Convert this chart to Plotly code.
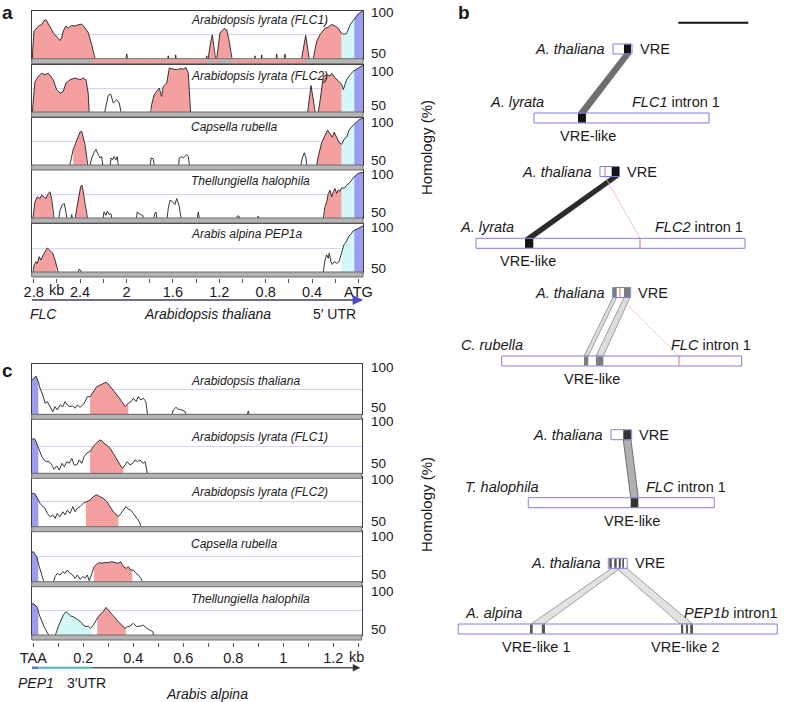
import numpy as np
import plotly.graph_objects as go

W, H = 786, 702
FONT = "Liberation Sans, Arial, Helvetica, sans-serif"

# ---------------- Panel a: FLC 5' region (kb upstream of ATG, A. thaliana reference) ----------------
A_SPECIES = ["Arabidopsis lyrata (FLC1)", "Arabidopsis lyrata (FLC2)", "Capsella rubella",
             "Thellungiella halophila", "Arabis alpina PEP1a"]

A1_KB = [2.812, 2.809, 2.797, 2.774, 2.752, 2.731, 2.711, 2.694, 2.674, 2.653, 2.631, 2.602, 2.573, 2.559, 2.545,
         2.522, 2.502, 2.472, 2.444, 2.416, 2.386, 2.358, 2.329, 2.300, 2.272, 2.262,
         2.010, 1.998, 1.986, 1.650, 1.640, 1.630, 1.585, 1.576, 1.565,
         1.315, 1.309, 1.300, 1.295, 1.278, 1.260, 1.248, 1.237, 1.228,
         1.222, 1.194, 1.159, 1.136, 1.114, 1.093, 1.085,
         0.900, 0.892, 0.884, 0.842, 0.834, 0.826, 0.713, 0.705, 0.697, 0.642, 0.634, 0.626,
         0.497, 0.490, 0.455, 0.427, 0.420,
         0.397, 0.390, 0.360, 0.332, 0.289, 0.260, 0.231, 0.203, 0.174, 0.145, 0.125, 0.102, 0.073, 0.045, 0.002, -0.039]
A1_PCT = [46, 57.7, 79, 82, 84.7, 85.4, 89.6, 90.6, 87, 82, 77, 72.4, 69, 71.7, 79,
          84, 82, 84.7, 84, 85.4, 86, 82, 77, 64.6, 48, 46,
          46, 55, 46, 46, 53, 46, 46, 54, 46,
          46, 53, 48, 50, 65, 75, 62, 48, 46,
          50, 76.8, 81.3, 80.2, 68, 48, 46,
          46, 53, 46, 46, 54, 46, 46, 55, 46, 46, 55, 46,
          46, 50, 74.4, 50, 46,
          46, 50, 68, 75, 81.6, 83, 85.7, 84.3, 81.6, 76.4, 75.5, 76.4, 85, 90, 96.7, 100]

A2_KB = [2.812, 2.809, 2.789, 2.760, 2.731, 2.703, 2.674, 2.653, 2.631, 2.602, 2.573, 2.545, 2.522, 2.487, 2.444,
         2.401, 2.372, 2.349, 2.330, 2.321, 2.310,
         2.194, 2.157, 2.136, 2.114, 2.084, 2.062, 2.041,
         1.795, 1.783, 1.763, 1.740, 1.717, 1.697, 1.683, 1.653, 1.631, 1.597, 1.567, 1.539, 1.510, 1.487, 1.467,
         1.447, 1.440,
         0.445, 0.438, 0.409, 0.375, 0.368,
         0.350, 0.347, 0.332, 0.317, 0.303, 0.274, 0.246, 0.231, 0.203, 0.174, 0.145, 0.131, 0.102, 0.073, 0.045,
         0.002, -0.039]
A2_PCT = [46, 54, 82, 87.7, 91, 89.4, 91, 87.7, 84, 73.6, 70, 71.8, 80.6, 84, 86,
          84, 86, 84, 70, 48, 46,
          46, 67.6, 69, 59.5, 63, 59.5, 46,
          46, 57.7, 67.6, 71.8, 75.3, 66.5, 77, 80.6, 96.5, 95.4, 94.7, 95.8, 95.4, 97, 91,
          48, 46,
          46, 50, 78, 50, 46,
          46, 50, 61, 75.3, 87.7, 89.4, 88, 91, 86, 83, 79, 73.6, 84, 89.4, 93,
          96.5, 99.3]

A3_KB = [2.495, 2.487, 2.472, 2.459, 2.435, 2.416, 2.401, 2.386, 2.372, 2.358, 2.343, 2.338, 2.330,
         2.321, 2.300, 2.280, 2.263, 2.243, 2.228, 2.214, 2.200,
         2.142, 2.134, 2.119, 2.108, 2.091, 2.079, 2.067,
         1.797, 1.789, 1.769, 1.757,
         1.553, 1.545, 1.524, 1.510, 1.496, 1.481, 1.467, 1.453,
         0.504, 0.484, 0.467, 0.453, 0.441,
         0.368, 0.360, 0.347, 0.317, 0.289, 0.266, 0.246, 0.226, 0.209, 0.188, 0.168, 0.145, 0.122, 0.102, 0.082,
         0.059, 0.030, -0.004, -0.039]
A3_PCT = [46, 50, 59, 66.7, 74, 79.6, 85, 86, 79.6, 72, 59, 48, 46,
          46, 57.4, 63, 66.7, 61, 57.4, 59, 46,
          46, 57.4, 55.5, 59, 55.5, 59, 46,
          46, 57.4, 56.7, 46,
          46, 57.4, 59, 57.4, 59, 61, 59, 46,
          46, 57.4, 63, 57.4, 46,
          46, 50, 59, 74, 81.5, 87, 83.3, 79.6, 85, 79.6, 74, 72, 77.8, 79.6, 87,
          90.7, 94.4, 98, 100]

A4_KB = [2.810, 2.803, 2.789, 2.769, 2.746, 2.731, 2.711, 2.694, 2.674, 2.659, 2.645, 2.631, 2.620,
         2.588, 2.573, 2.553, 2.536, 2.522, 2.510,
         2.481, 2.472, 2.459,
         2.444, 2.429, 2.412, 2.395, 2.384, 2.372, 2.355, 2.338, 2.330,
         2.205, 2.194, 2.177, 2.166, 2.148, 2.134, 2.119,
         1.918, 1.907, 1.895, 1.878, 1.860, 1.849,
         1.769, 1.757, 1.746, 1.734,
         1.653, 1.640, 1.625, 1.602, 1.582, 1.567, 1.547, 1.524,
         1.395, 1.381, 1.366,
         1.059, 1.045, 1.030, 1.019,
         0.875, 0.865, 0.855,
         0.310, 0.303, 0.289, 0.274, 0.260, 0.246, 0.231, 0.217, 0.203, 0.188, 0.174, 0.159, 0.145, 0.122, 0.102,
         0.082, 0.059, 0.036, 0.002, -0.039]
A4_PCT = [46, 52.8, 66.8, 72, 70.3, 73.8, 72, 70.3, 75.6, 77.3, 70.3, 48, 46,
          46, 58, 64, 65, 56.3, 46,
          46, 53.5, 46,
          48, 59.8, 73.8, 82.6, 84.3, 77.3, 63.3, 48, 46,
          46, 56.3, 52.8, 57, 53.5, 54.5, 46,
          46, 56.3, 54.5, 53.5, 52.8, 46,
          46, 54.5, 56.3, 46,
          46, 59.8, 68.5, 66.8, 64, 70.3, 63.3, 46,
          46, 56.3, 46,
          46, 52, 52, 46,
          46, 52, 46,
          46, 50, 61.5, 66.8, 75.6, 79, 72, 77.3, 80.8, 75.6, 79, 78, 81.5, 81, 84.3,
          86, 89.6, 93, 96.6, 97.6]

A5_KB = [2.810, 2.803, 2.797, 2.780, 2.769, 2.752, 2.737, 2.717, 2.703, 2.683, 2.666, 2.653, 2.636, 2.616, 2.602,
         2.588, 2.580,
         2.424, 2.409, 2.395, 2.386,
         0.310, 0.303, 0.289, 0.274, 0.260, 0.252, 0.237, 0.226, 0.209, 0.188, 0.168, 0.153, 0.140, 0.125, 0.110,
         0.093, 0.082, 0.065, 0.045, 0.016, -0.013, -0.039]
A5_PCT = [46, 50, 57, 60.7, 59, 66, 62.5, 67.9, 71.4, 75, 73.2, 71.4, 69.6, 62.5, 57,
          48, 46,
          46, 52.9, 51.8, 46,
          46, 50, 62.5, 67.9, 64.3, 69.6, 60.7, 57.9, 60.7, 59, 60.7, 67.9, 73.2, 78.6, 80.4,
          84, 87.5, 89.3, 92.9, 94.6, 96.4, 98]

A_CNS = [[(2.272, 2.809), (1.237, 1.295), (1.093, 1.222), (0.427, 0.490), (0.145, 0.390)],
         [(2.321, 2.809), (1.447, 1.783), (0.375, 0.438), (0.145, 0.347)],
         [(2.343, 2.459), (0.145, 0.360)],
         [(2.631, 2.803), (2.338, 2.444), (0.145, 0.303)],
         [(2.602, 2.797)]]
A_UTR = (0.036, 0.145)
A_EXON = (-0.039, 0.036)
A1_BAR_CNS = [(1.304, 2.297), (1.205, 1.256), (0.457, 1.100)]
A_TICKS = [2.8, 2.6, 2.4, 2.2, 2.0, 1.8, 1.6, 1.4, 1.2, 1.0, 0.8, 0.6, 0.4, 0.2, 0.0]
A_TICKTEXT = ["2.8", "", "2.4", "", "2", "", "1.6", "", "1.2", "", "0.8", "", "0.4", "", "ATG"]

# ---------------- Panel c: PEP1 3' region (kb downstream of TAA, A. alpina reference) ----------------
C_SPECIES = ["Arabidopsis thaliana", "Arabidopsis lyrata (FLC1)", "Arabidopsis lyrata (FLC2)",
             "Capsella rubella", "Thellungiella halophila"]

C1_KB = [-0.006, 0.000, 0.011, 0.020, 0.027, 0.038, 0.047, 0.056, 0.067, 0.078, 0.087, 0.096, 0.107, 0.118, 0.127,
         0.136, 0.147, 0.158, 0.167, 0.176, 0.187, 0.198, 0.207, 0.216, 0.227, 0.240, 0.254, 0.267, 0.280, 0.291,
         0.300, 0.314, 0.327, 0.340, 0.354, 0.367, 0.380, 0.391, 0.400, 0.411, 0.420, 0.430, 0.440, 0.450, 0.458,
         0.465,
         0.550, 0.560, 0.571, 0.580, 0.594, 0.607, 0.614,
         0.852, 0.860, 0.867]
C1_PCT = [84, 85, 88, 82.4, 75.8, 69.2, 61, 62.6, 57.6, 52.6, 57.6, 54.3, 59.3, 57.6, 62.6,
          59.3, 57.6, 58.3, 56, 59.3, 57, 59.3, 62.6, 67.5, 67.5, 72.5, 77.5, 79, 80.8, 81.8,
          80, 75.8, 72.5, 67.5, 62.6, 57.6, 61, 62.6, 66, 62.6, 67.5, 64.2, 66, 62.6, 48,
          46,
          46, 54.3, 57, 55, 54.3, 52.6, 46,
          46, 53.3, 46]

C2_KB = [-0.006, 0.000, 0.007, 0.016, 0.024, 0.034, 0.043, 0.054, 0.064, 0.074, 0.083, 0.094, 0.104, 0.115, 0.124,
         0.134, 0.144, 0.154, 0.163, 0.174, 0.184, 0.194, 0.203, 0.216, 0.227, 0.240, 0.254, 0.267, 0.274, 0.283,
         0.294, 0.307, 0.320, 0.334, 0.347, 0.358, 0.367, 0.376, 0.387, 0.398, 0.407, 0.416, 0.427, 0.438, 0.447,
         0.454, 0.460]
C2_PCT = [81, 82, 81.3, 76, 71.5, 65.4, 62.3, 60.7, 60.7, 57.7, 53.7, 56.8, 53, 59.2, 56,
          60.7, 59.2, 63.8, 57.7, 57.7, 62.3, 59.2, 65.4, 69, 70, 74.6, 78.2, 80.7, 80.1, 77.6,
          76, 73, 68.4, 62.3, 57.7, 54.6, 57.7, 60.7, 57.7, 59.2, 62.3, 60.7, 62.3, 59.2, 60.7,
          48, 46]

C3_KB = [-0.006, 0.000, 0.007, 0.016, 0.027, 0.038, 0.047, 0.056, 0.067, 0.078, 0.087, 0.096, 0.107, 0.118, 0.127,
         0.136, 0.147, 0.158, 0.167, 0.176, 0.187, 0.200, 0.214, 0.227, 0.240, 0.254, 0.267, 0.280, 0.294, 0.307,
         0.320, 0.334, 0.340, 0.350, 0.360, 0.371, 0.380, 0.389, 0.400, 0.414, 0.424, 0.434, 0.440]
C3_PCT = [83, 83.6, 83, 78.6, 73.5, 70.2, 68.5, 63.4, 60, 61.8, 58.4, 63.4, 60, 65, 61.8,
          66.8, 63.4, 70.2, 65, 68.5, 70.2, 73.5, 75.2, 76.9, 80.2, 82, 80.2, 78.6, 75.2, 70.2,
          65, 61.8, 60, 63.4, 66.8, 70.2, 67.5, 66.8, 63.4, 58.4, 55, 48, 46]

C4_KB = [-0.006, 0.000, 0.004, 0.014, 0.020, 0.027, 0.034, 0.040, 0.047, 0.052,
         0.076, 0.080, 0.087, 0.096, 0.107, 0.118, 0.127, 0.136, 0.147, 0.158, 0.167, 0.176, 0.187, 0.198, 0.207,
         0.216, 0.224, 0.234, 0.243, 0.254, 0.264, 0.274, 0.287, 0.300, 0.314, 0.327, 0.340, 0.350, 0.360, 0.371,
         0.380, 0.389, 0.400, 0.411, 0.420, 0.430, 0.440, 0.446]
C4_PCT = [79, 79.6, 78, 74.7, 68, 61.5, 56.6, 51.6, 48, 46,
          46, 50, 55, 58.2, 56.6, 59.9, 58.2, 61.5, 58.2, 56.6, 53.3, 56.6, 52.3, 55, 53.3,
          56.6, 51, 58.2, 64.8, 67.4, 68.8, 68.2, 69, 68.8, 69.7, 68.8, 68.2, 69.7, 64.8, 63.2,
          64.8, 61.5, 61.5, 58.2, 56.6, 53.3, 48, 46]

C5_KB = [-0.006, 0.000, 0.007, 0.016, 0.024, 0.034, 0.043, 0.054, 0.064, 0.070,
         0.080, 0.091, 0.100, 0.110, 0.120, 0.131, 0.140, 0.149, 0.160, 0.171, 0.180, 0.189, 0.200, 0.211, 0.220,
         0.229, 0.240, 0.251, 0.260, 0.269, 0.280, 0.291, 0.300, 0.314, 0.327, 0.340, 0.354, 0.367, 0.376, 0.387,
         0.400, 0.414, 0.427, 0.440, 0.454, 0.467, 0.478, 0.483, 0.490]
C5_PCT = [81, 82, 80.4, 78, 70.3, 63.5, 58.5, 53.4, 48, 46,
          46, 51.7, 58.5, 65.2, 70.3, 73.7, 71.3, 69.3, 68.6, 67, 65.2, 63.5, 60, 58.5, 59,
          56.8, 60, 65.2, 68.6, 71.3, 73.7, 78, 75.4, 70.3, 67, 63.5, 60, 56.8, 58.5, 59,
          61.8, 58.5, 59, 60, 56.8, 55, 53.4, 48, 46]

C_CNS = [[(0.227, 0.380)], [(0.227, 0.360)], [(0.211, 0.340)], [(0.243, 0.396)], [(0.256, 0.370)]]
C_UTR = [[], [], [], [], [(0.094, 0.233)]]
C_EXON = (-0.0064, 0.020)
C_UTR_SPAN = (0.020, 0.233)
C_TICKS = [0.0, 0.1, 0.2, 0.3, 0.4, 0.5, 0.6, 0.7, 0.8, 0.9, 1.0, 1.1, 1.2, 1.3]
C_TICKTEXT = ["TAA", "", "0.2", "", "0.4", "", "0.6", "", "0.8", "", "1", "", "1.2", ""]

# ---------------- Panel b: VRE alignments (bp, schematic) ----------------
B_SPECIES = ["A. lyrata", "A. lyrata", "C. rubella", "T. halophila", "A. alpina"]
B_GENE = ["FLC1", "FLC2", "FLC", "FLC", "PEP1b"]
B_INTRON_TXT = [" intron 1", " intron 1", " intron 1", " intron 1", " intron1"]
B_VRE_BOX = [(2757, 3029), (2571, 2847), (2753, 3010), (2729, 3024), (2690, 2961)]
B_INTRON = [(1629, 4129), (800, 4643), (1167, 4596), (1547, 4204), (547, 5104)]
B_VRE_HITS = [[(2914, 3014)], [(2739, 2847)], [(2757, 2810), (2914, 3000)], [(2904, 3014)],
              [(2704, 2740), (2775, 2810), (2840, 2870), (2890, 2914)]]
B_INTRON_HITS = [[(2257, 2371)], [(1500, 1619)], [(2343, 2404), (2514, 2619)], [(3010, 3119)],
                 [(1571, 1610), (1740, 1786), (3729, 3760), (3800, 3830), (3860, 3900)]]
B_LINKS = [[((2914, 3014), (2257, 2371))],
           [((2739, 2847), (1500, 1619))],
           [((2757, 2810), (2343, 2404)), ((2914, 3000), (2514, 2619))],
           [((2904, 3014), (3010, 3119))],
           [((2739, 2857), (1586, 1771)), ((2810, 2953), (3714, 3896))]]
B_RED = [None, (2643, 3143), (2857, 3700), None, None]
B_VRE_LIKE = [[(2400, "VRE-like")], [(1536, "VRE-like")], [(2453, "VRE-like")], [(3024, "VRE-like")],
              [(1667, "VRE-like 1"), (3797, "VRE-like 2")]]
B_SPECIES_X = [971, 543, 557, 614, 614]
B_GENE_X = [4314, 4643, 4757, 4400, 5143]
B_SCALE_BAR = (3690, 4690)   # 1 kb

# ---------------- colours ----------------
PINK = "#f5a0a0"
CYAN = "#d3f7f7"
BLUE = "#9c9cf0"
TEAL = "#4fb3b3"

fig = go.Figure()
layout = dict(width=W, height=H, autosize=False, margin=dict(l=0, r=0, t=0, b=0, pad=0, autoexpand=False),
              paper_bgcolor="white", plot_bgcolor="white", showlegend=False,
              font=dict(family=FONT, size=14, color="#1a1a1a"))
shapes, annos = [], []


def yp(v):
    return 1 - v / H


def names(i):
    s = "" if i == 1 else str(i)
    return "x" + s, "y" + s, "xaxis" + s, "yaxis" + s


def region_poly(xs, ys, lo, hi):
    xs = np.asarray(xs, float)
    ys = np.asarray(ys, float)
    o = np.argsort(xs)
    xs, ys = xs[o], ys[o]
    inner = (xs > lo) & (xs < hi)
    fx = np.concatenate([[lo], xs[inner], [hi]])
    return fx, np.interp(fx, xs, ys)


def text(x, y, t, xref="paper", yref="paper", xanchor="center", size=14, yanchor="middle", **kw):
    d = dict(x=x, y=y, xref=xref, yref=yref, text=t, showarrow=False, xanchor=xanchor, yanchor=yanchor,
             font=dict(family=FONT, size=size, color="#1a1a1a"))
    d.update(kw)
    annos.append(d)


def add_track(i, xdom, ydom, xrange, kb, pct, regions, label, lab_y, y100, y50):
    xr, yr, xk, yk = names(i)
    top, bot = ydom
    layout[xk] = dict(domain=[xdom[0] / W, xdom[1] / W], range=xrange, anchor=yr, showgrid=False,
                      zeroline=False, showticklabels=False, ticks="", showline=True, mirror=True,
                      linecolor="#3c3c3c", linewidth=1, fixedrange=True, automargin=False)
    layout[yk] = dict(domain=[yp(bot), yp(top)], range=[50, 100], anchor=xr, tickvals=[75],
                      showticklabels=False, ticks="", showgrid=True, gridcolor="#d4d4f4", gridwidth=1,
                      zeroline=False, showline=True, mirror=True, linecolor="#3c3c3c", linewidth=1,
                      fixedrange=True, automargin=False)
    for lo, hi, col in regions:
        fx, fy = region_poly(kb, pct, lo, hi)
        fig.add_trace(go.Scatter(x=fx, y=fy, xaxis=xr, yaxis=yr, mode="lines", line=dict(width=0, color=col),
                                 fill="tozeroy", fillcolor=col, hoverinfo="skip"))
    fig.add_trace(go.Scatter(x=kb, y=pct, xaxis=xr, yaxis=yr, mode="lines",
                             line=dict(color="#202020", width=0.9), hoverinfo="skip"))
    shapes.append(dict(type="rect", xref="paper", yref="paper", x0=xdom[0] / W, x1=xdom[1] / W,
                       y0=yp(bot + 5), y1=yp(bot), fillcolor="#b4b4b4", line=dict(color="#6c6c6c", width=1)))
    text(189 / W, yp(lab_y), "<i>%s</i>" % label, xanchor="left", size=12)
    text(369 / W, yp(y100), "100", xanchor="left", size=13.5)
    text(369 / W, yp(y50), "50", xanchor="left", size=13.5)
    return xr


def add_tick_axis(i, xdom, ypix, xrange, tickvals, ticktext, standoff):
    xr, yr, xk, yk = names(i)
    layout[xk] = dict(domain=[xdom[0] / W, xdom[1] / W], range=xrange, anchor=yr, tickvals=tickvals,
                      ticktext=ticktext, ticks="outside", ticklen=4, tickwidth=1, tickcolor="#555",
                      showline=False, showgrid=False, zeroline=False, fixedrange=True, automargin=False,
                      ticklabelstandoff=standoff, tickfont=dict(family=FONT, size=14.5, color="#1a1a1a"))
    layout[yk] = dict(domain=[yp(ypix + 1), yp(ypix)], range=[0, 1], visible=False, anchor=xr,
                      fixedrange=True, automargin=False)
    fig.add_trace(go.Scatter(x=[tickvals[0]], y=[0.5], xaxis=xr, yaxis=yr, mode="markers",
                             marker=dict(opacity=0), hoverinfo="skip"))
    return xr


# ---------------- panel a ----------------
A_XDOM = (31.7, 363)
A_XRANGE = [2.817, -0.039]
A_TRACKS = [(10.7, 58.7), (64.7, 112), (118, 165), (170, 218), (224, 272)]
A_LAB_Y = [20, 76, 127, 181, 234]
A_100 = [12.5, 71.3, 122, 174, 227.7]
A_50 = [53.3, 105.8, 160, 212.5, 268.5]
A_DATA = [(A1_KB, A1_PCT), (A2_KB, A2_PCT), (A3_KB, A3_PCT), (A4_KB, A4_PCT), (A5_KB, A5_PCT)]
for k in range(5):
    regs = [(lo, hi, PINK) for lo, hi in A_CNS[k]] + [(A_UTR[0], A_UTR[1], CYAN), (A_EXON[0], A_EXON[1], BLUE)]
    xr = add_track(k + 1, A_XDOM, A_TRACKS[k], A_XRANGE, A_DATA[k][0], A_DATA[k][1], regs,
                   A_SPECIES[k], A_LAB_Y[k], A_100[k], A_50[k])
    if k == 0:
        for lo, hi in A1_BAR_CNS:
            shapes.append(dict(type="rect", xref=xr, yref="paper", x0=lo, x1=hi, y0=yp(A_TRACKS[0][1] + 4.2),
                               y1=yp(A_TRACKS[0][1] + 0.8), fillcolor="#f09c9c", line=dict(width=0)))

xa = add_tick_axis(11, A_XDOM, 277, A_XRANGE, A_TICKS, A_TICKTEXT, -3)
text(47 / W, yp(290), "kb", xanchor="left", size=14.5)
LA = 300
shapes.append(dict(type="line", xref=xa, yref="paper", x0=2.817, x1=0.045, y0=yp(LA), y1=yp(LA),
                   line=dict(color="#6f7080", width=1.8)))
shapes.append(dict(type="line", xref=xa, yref="paper", x0=0.045, x1=-0.030, y0=yp(LA), y1=yp(LA),
                   line=dict(color="#6b6be0", width=2.5)))
annos.append(dict(x=-0.036, y=yp(LA), xref=xa, yref="paper", ax=-7, ay=0, showarrow=True, arrowhead=2,
                  arrowsize=1, arrowwidth=2, arrowcolor="#4a4ac8", text=""))
text(28 / W, yp(314), "<i>FLC</i>", xanchor="left")
text(207 / W, yp(314), "<i>Arabidopsis thaliana</i>")
text(334 / W, yp(314), "5′ UTR")
text(426 / W, yp(148), "Homology (%)", textangle=-90, size=15)
text(0, 1, "<b>a</b>", xanchor="left", yanchor="top", size=19)

# ---------------- panel c ----------------
C_XDOM = (31.7, 361.7)
C_XRANGE = [-0.0064, 1.3136]
C_TRACKS = [(364, 414.3), (419, 473.3), (477, 526.7), (531, 581.7), (585.7, 635)]
C_LAB_Y = [381, 437, 492, 544, 599]
C_100 = [367.5, 421, 479, 536, 591]
C_50 = [407.5, 463, 521, 574, 629]
C_DATA = [(C1_KB, C1_PCT), (C2_KB, C2_PCT), (C3_KB, C3_PCT), (C4_KB, C4_PCT), (C5_KB, C5_PCT)]
for k in range(5):
    regs = ([(C_EXON[0], C_EXON[1], BLUE)] + [(lo, hi, CYAN) for lo, hi in C_UTR[k]] +
            [(lo, hi, PINK) for lo, hi in C_CNS[k]])
    add_track(k + 6, C_XDOM, C_TRACKS[k], C_XRANGE, C_DATA[k][0], C_DATA[k][1], regs,
              C_SPECIES[k], C_LAB_Y[k], C_100[k], C_50[k])

xc = add_tick_axis(12, C_XDOM, 641, C_XRANGE, C_TICKS, C_TICKTEXT, -1)
text(347 / W, yp(657), "kb", xanchor="left", size=14.5)
LC = 667.7
shapes.append(dict(type="line", xref=xc, yref="paper", x0=C_EXON[0], x1=C_EXON[1], y0=yp(LC), y1=yp(LC),
                   line=dict(color="#6b6be0", width=2.5)))
shapes.append(dict(type="line", xref=xc, yref="paper", x0=C_UTR_SPAN[0], x1=C_UTR_SPAN[1], y0=yp(LC), y1=yp(LC),
                   line=dict(color=TEAL, width=2)))
shapes.append(dict(type="line", xref=xc, yref="paper", x0=C_UTR_SPAN[1], x1=1.300, y0=yp(LC), y1=yp(LC),
                   line=dict(color="#55565f", width=1.5)))
annos.append(dict(x=1.308, y=yp(LC), xref=xc, yref="paper", ax=-7, ay=0, showarrow=True, arrowhead=2,
                  arrowsize=1, arrowwidth=1.5, arrowcolor="#333", text=""))
text(36 / W, yp(683), "<i>PEP1</i>")
text(86 / W, yp(683), "3′UTR")
text(207 / W, yp(693.5), "<i>Arabis alpina</i>")
text(426 / W, yp(505), "Homology (%)", textangle=-90, size=15)
text(0, yp(358), "<b>c</b>", xanchor="left", yanchor="top", size=19)

# ---------------- panel b ----------------
layout["xaxis13"] = dict(domain=[420 / W, 1], range=[0, 5229], visible=False, anchor="y13", fixedrange=True)
layout["yaxis13"] = dict(domain=[0, 1], range=[H, 0], visible=False, anchor="x13", fixedrange=True)
fig.add_trace(go.Scatter(x=[0], y=[0], xaxis="x13", yaxis="y13", mode="markers", marker=dict(opacity=0),
                         hoverinfo="skip"))
XB, YB = "x13", "y13"
B_ROWS = [(49, 118), (171.5, 243.3), (292.5, 361), (434.7, 502.7), (563.3, 629)]
HB = 5
LINK_FILL = ["#6e6e6e", "#2a2a2a", "rgba(130,130,130,0.28)", "rgba(80,80,80,0.45)", "rgba(140,140,140,0.25)"]
LINK_EDGE = ["#6e6e6e", "#2a2a2a", "#8a8a8a", "#555555", "#8a8a8a"]
HIT_COL = ["#141414", "#141414", "#7c7c7c", "#333333", "#555555"]

for k in range(5):
    yt, yb = B_ROWS[k]
    for (t0, t1), (b0, b1) in B_LINKS[k]:
        path = "M %s,%s L %s,%s L %s,%s L %s,%s Z" % (t0, yt + HB, t1, yt + HB, b1, yb - HB, b0, yb - HB)
        shapes.append(dict(type="path", xref=XB, yref=YB, path=path, fillcolor=LINK_FILL[k],
                           line=dict(color=LINK_EDGE[k], width=0.8)))
    if B_RED[k] is not None:
        rt, rb = B_RED[k]
        shapes.append(dict(type="line", xref=XB, yref=YB, x0=rt, x1=rb, y0=yt + HB, y1=yb - HB,
                           line=dict(color="#f4b4b4", width=0.8)))
    v0, v1 = B_VRE_BOX[k]
    i0, i1 = B_INTRON[k]
    shapes.append(dict(type="rect", xref=XB, yref=YB, x0=v0, x1=v1, y0=yt - HB, y1=yt + HB,
                       fillcolor="white", line=dict(color="#7f7fe0", width=1)))
    shapes.append(dict(type="rect", xref=XB, yref=YB, x0=i0, x1=i1, y0=yb - HB, y1=yb + HB,
                       fillcolor="white", line=dict(color="#7f7fe0", width=1)))
    for h0, h1 in B_VRE_HITS[k]:
        shapes.append(dict(type="rect", xref=XB, yref=YB, x0=h0, x1=h1, y0=yt - HB + 0.5, y1=yt + HB - 0.5,
                           fillcolor=HIT_COL[k], line=dict(width=0)))
    for h0, h1 in B_INTRON_HITS[k]:
        shapes.append(dict(type="rect", xref=XB, yref=YB, x0=h0, x1=h1, y0=yb - HB + 0.5, y1=yb + HB - 0.5,
                           fillcolor=HIT_COL[k], line=dict(width=0)))
    if B_RED[k] is not None:
        rt, rb = B_RED[k]
        shapes.append(dict(type="line", xref=XB, yref=YB, x0=rt, x1=rt, y0=yt - HB, y1=yt + HB,
                           line=dict(color="#e06a6a", width=1)))
        shapes.append(dict(type="line", xref=XB, yref=YB, x0=rb, x1=rb, y0=yb - HB, y1=yb + HB,
                           line=dict(color="#e06a6a", width=1)))
    text(v0 - 80, yt, "<i>A. thaliana</i>", xref=XB, yref=YB, xanchor="right", size=14.5)
    text(v1 + 80, yt, "VRE", xref=XB, yref=YB, xanchor="left", size=14.5)
    text(B_SPECIES_X[k], yb - 16, "<i>%s</i>" % B_SPECIES[k], xref=XB, yref=YB, xanchor="left", size=14.5)
    text(B_GENE_X[k], yb - 16, "<i>%s</i>%s" % (B_GENE[k], B_INTRON_TXT[k]), xref=XB, yref=YB,
         xanchor="right", size=14.5)
    for xv, t in B_VRE_LIKE[k]:
        text(xv, yb + 18, t, xref=XB, yref=YB, size=14.5)

shapes.append(dict(type="line", xref=XB, yref=YB, x0=B_SCALE_BAR[0], x1=B_SCALE_BAR[1], y0=22.7, y1=22.7,
                   line=dict(color="#111", width=2)))
text(456 / W, 1, "<b>b</b>", xanchor="left", yanchor="top", size=19)

layout["shapes"] = shapes
layout["annotations"] = annos
fig.update_layout(**layout)
fig.write_html("out.html", config={"displayModeBar": False, "responsive": False},
               post_script="document.body.style.margin='0px';document.body.style.padding='0px';"
                           "document.body.style.overflow='hidden';")
